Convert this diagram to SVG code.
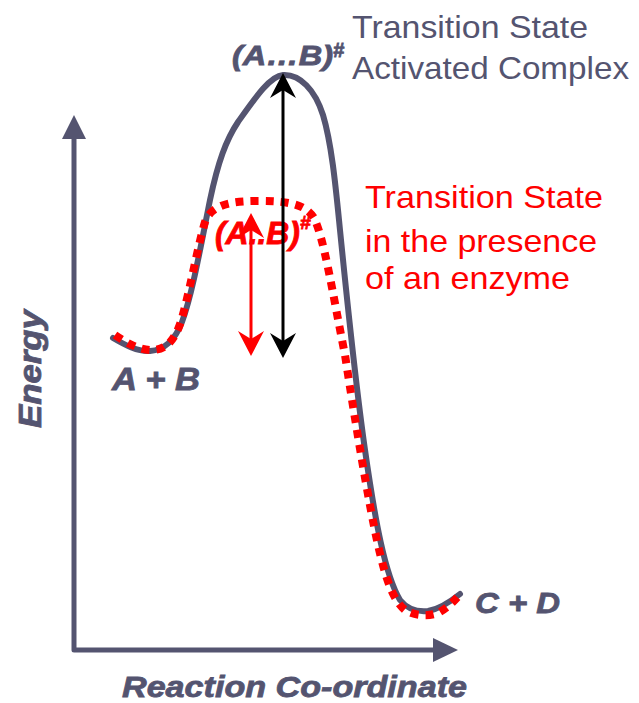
<svg xmlns="http://www.w3.org/2000/svg" width="639" height="703" viewBox="0 0 639 703">
<style>
.gray{fill:#545470}
.red{fill:#ff0000}
.bi{font-family:"Liberation Sans",Arial,sans-serif;font-weight:bold;font-style:italic}
.sg{stroke:#545470;stroke-width:0.8}
.sr{stroke:#ff0000;stroke-width:0.8}
.rg{font-family:"Liberation Sans",Arial,sans-serif}
.axis{fill:none;stroke:#545470;stroke-width:5;stroke-linejoin:round}
.curve{fill:none;stroke:#545470;stroke-width:6;stroke-linecap:round}
.dots{fill:none;stroke:#ff0000;stroke-width:8;stroke-dasharray:8 7}
</style>
<rect width="639" height="703" fill="#ffffff"/>
<g id="axes">
<path class="axis" d="M74,139 L74,650 L434,650"/>
<polygon class="gray" points="74,115 62,139 86,139"/>
<polygon class="gray" points="458,650 433,638 433,662"/>
<text class="bi gray sg" font-size="31" transform="translate(41,428) rotate(-90)" textLength="118" lengthAdjust="spacingAndGlyphs">Energy</text>
<text class="bi gray sg" x="122" y="697" font-size="30" textLength="345" lengthAdjust="spacingAndGlyphs">Reaction Co-ordinate</text>
</g>
<g id="curves">
<path id="uncatalysed" class="curve" d="M113,338 C125,345 138,352 150,351 C165,350 175,340 182,322 C192,295 200,250 210,200 C218,162 226,140 238,122 C255,98 270,76 283,75 C300,74 315,90 323,115 C332,145 336,190 340,230 C347,300 355,380 365,450 C375,520 385,575 400,600 C408,610 418,612 428,611 C440,609 450,602 460,594"/>
<path id="catalysed" class="dots" d="M115,335 C128,344 140,350 152,350 C165,350 175,342 182,318 C190,290 198,245 205,222 C212,203 235,201 258,201 C285,201 305,203 314,218 C324,238 332,290 345,355 C355,420 368,500 378,545 C386,580 393,600 405,610 C415,616 430,617 440,612 C450,606 455,600 462,592"/>
</g>
<g id="reactants">
<text class="bi gray sg" x="112" y="390" font-size="32" textLength="88" lengthAdjust="spacingAndGlyphs">A + B</text>
</g>
<g id="products">
<text class="bi gray sg" x="475" y="613" font-size="30" textLength="85" lengthAdjust="spacingAndGlyphs">C + D</text>
</g>
<g id="transition-state">
<text class="bi gray sg" x="232" y="65" font-size="27" textLength="101" lengthAdjust="spacingAndGlyphs">(A…B)</text>
<text class="bi gray sg" x="333" y="57" font-size="20">#</text>
<text class="rg gray" x="352" y="38" font-size="32" textLength="236" lengthAdjust="spacingAndGlyphs">Transition State</text>
<text class="rg gray" x="352" y="79" font-size="32" textLength="277" lengthAdjust="spacingAndGlyphs">Activated Complex</text>
</g>
<g id="enzyme-state">
<text class="bi red sr" x="215" y="244" font-size="31" textLength="85" lengthAdjust="spacingAndGlyphs">(A..B)</text>
<text class="bi red sr" x="300" y="229" font-size="19">#</text>
<text class="rg red" x="365" y="208" font-size="32" textLength="238" lengthAdjust="spacingAndGlyphs">Transition State</text>
<text class="rg red" x="365" y="252" font-size="32" textLength="232" lengthAdjust="spacingAndGlyphs">in the presence</text>
<text class="rg red" x="365" y="289" font-size="32" textLength="205" lengthAdjust="spacingAndGlyphs">of an enzyme</text>
</g>
<g id="connectors">
<line x1="283" y1="90" x2="283" y2="345" stroke="#000000" stroke-width="3"/>
<path d="M283,73 L270,98 L283,90 L296,98 Z" fill="#000000"/>
<path d="M283,358 L270,333 L283,341 L296,333 Z" fill="#000000"/>
<line x1="251" y1="225" x2="251" y2="345" stroke="#ff0000" stroke-width="3"/>
<path d="M251,213 L238,238 L251,230 L264,238 Z" fill="#ff0000"/>
<path d="M251,356 L238,331 L251,339 L264,331 Z" fill="#ff0000"/>
</g>
</svg>
